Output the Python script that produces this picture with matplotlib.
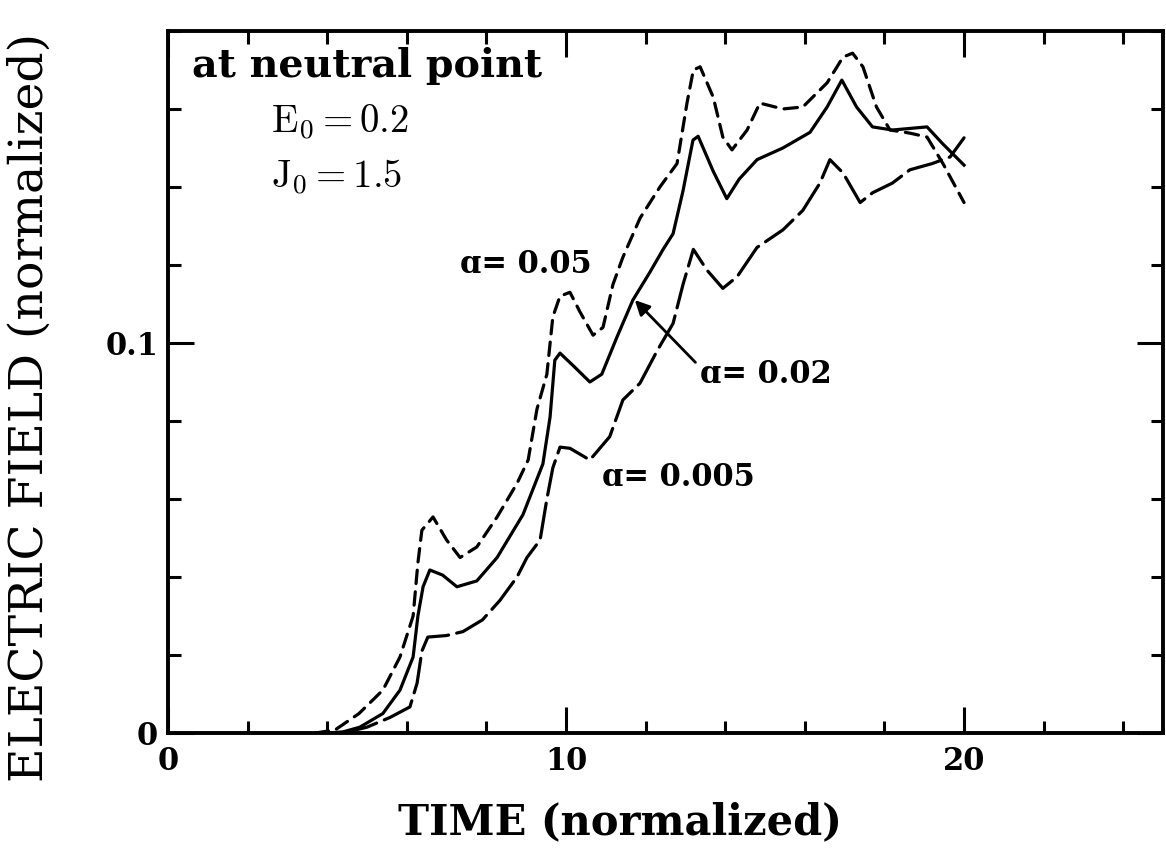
import numpy as np
import matplotlib
matplotlib.use("Agg")
import matplotlib.pyplot as plt
from matplotlib.ticker import MultipleLocator

plt.rcParams['font.family'] = ['DejaVu Serif']
plt.rcParams['mathtext.fontset'] = 'cm'

# electric field at the neutral point, alpha = 0.02 (solid)
t_a02 = [4.0, 4.4, 4.82, 5.4, 5.83, 6.16, 6.28, 6.41, 6.58, 6.9, 7.26, 7.76, 8.27,
         8.92, 9.42, 9.6, 9.72, 9.85, 10.2, 10.6, 10.9, 11.28, 11.68, 12.1, 12.44,
         12.69, 12.94, 13.19, 13.32, 13.7, 14.04, 14.35, 14.8, 15.45, 16.13, 16.56,
         16.93, 17.3, 17.7, 18.2, 19.07, 19.47, 20.0]
e_a02 = [0.0, 0.0003, 0.0015, 0.005, 0.011, 0.0195, 0.030, 0.0375, 0.0418, 0.0405,
         0.0375, 0.039, 0.045, 0.056, 0.069, 0.081, 0.0956, 0.0974, 0.094, 0.090,
         0.092, 0.1015, 0.111, 0.118, 0.124, 0.128, 0.139, 0.152, 0.153, 0.144,
         0.137, 0.142, 0.147, 0.150, 0.154, 0.1605, 0.1674, 0.1605, 0.1554, 0.1546,
         0.1554, 0.151, 0.1456]

# alpha = 0.05 (short dashes)
t_a05 = [3.7, 4.2, 4.8, 5.4, 5.83, 6.16, 6.28, 6.38, 6.66, 7.0, 7.34, 7.76, 8.27,
         8.77, 9.05, 9.27, 9.52, 9.67, 9.85, 10.1, 10.35, 10.68, 10.93, 11.18,
         11.43, 11.86, 12.36, 12.79, 13.04, 13.2, 13.37, 13.7, 13.94, 14.17, 14.55,
         14.87, 15.45, 15.95, 16.56, 16.96, 17.2, 17.46, 17.8, 18.14, 18.64, 19.07,
         19.47, 20.0]
e_a05 = [0.0, 0.0008, 0.005, 0.011, 0.0195, 0.030, 0.0436, 0.052, 0.0554, 0.0495,
         0.045, 0.0477, 0.0554, 0.064, 0.070, 0.083, 0.092, 0.1067, 0.112, 0.113,
         0.108, 0.102, 0.104, 0.115, 0.122, 0.132, 0.140, 0.146, 0.1615, 0.170,
         0.1708, 0.163, 0.1528, 0.1495, 0.1546, 0.1615, 0.160, 0.1605, 0.1667,
         0.1733, 0.1743, 0.1708, 0.1605, 0.1546, 0.1538, 0.1528, 0.146, 0.136]

# alpha = 0.005 (long dashes)
t_a005 = [4.4, 5.0, 5.58, 6.08, 6.26, 6.38, 6.53, 7.0, 7.41, 7.9, 8.34, 8.77, 9.02,
          9.35, 9.52, 9.67, 9.85, 10.1, 10.6, 11.1, 11.43, 11.86, 12.29, 12.69,
          12.94, 13.2, 13.54, 13.94, 14.3, 14.8, 15.45, 15.95, 16.38, 16.63, 16.96,
          17.39, 17.7, 18.2, 18.64, 19.2, 19.65, 20.0]
e_a005 = [0.0, 0.0015, 0.004, 0.0067, 0.0128, 0.021, 0.0246, 0.025, 0.026, 0.029,
          0.034, 0.040, 0.045, 0.0495, 0.060, 0.068, 0.0733, 0.073, 0.070, 0.076,
          0.0854, 0.0897, 0.098, 0.105, 0.115, 0.124, 0.1187, 0.114, 0.117, 0.1245,
          0.129, 0.134, 0.141, 0.147, 0.1436, 0.136, 0.1385, 0.141, 0.1444, 0.146,
          0.1477, 0.1526]

x_major, x_minor = 10, 2
y_major, y_minor = 0.1, 0.02

fig = plt.figure(figsize=(11.66, 8.5), dpi=100)
ax = fig.add_axes([0.144, 0.1376, 0.8535, 0.826])

lw = 2.3
ax.plot(t_a02, e_a02, color='k', lw=lw, solid_joinstyle='round')
ax.plot(t_a05, e_a05, color='k', lw=lw, dashes=(4.2, 2.6), dash_capstyle='round')
ax.plot(t_a005, e_a005, color='k', lw=lw, dashes=(11, 2.6), dash_capstyle='round')

ax.set_xlim(0, 25)
ax.set_ylim(0, 0.18)
ax.xaxis.set_major_locator(MultipleLocator(x_major))
ax.xaxis.set_minor_locator(MultipleLocator(x_minor))
ax.yaxis.set_major_locator(MultipleLocator(y_major))
ax.yaxis.set_minor_locator(MultipleLocator(y_minor))
ax.set_xticks([0, 10, 20])
ax.set_xticklabels(['0', '10', '20'])
ax.set_yticks([0, 0.1])
ax.set_yticklabels(['0', '0.1'])

ax.tick_params(which='both', direction='in', top=True, right=True, width=2.2)
ax.tick_params(which='major', length=19, labelsize=22)
ax.tick_params(which='minor', length=9)
ax.tick_params(axis='x', which='major', pad=9)
ax.tick_params(axis='y', which='major', pad=7)
for lab in ax.get_xticklabels() + ax.get_yticklabels():
    lab.set_fontweight('bold')
for sp in ax.spines.values():
    sp.set_linewidth(2.8)

ax.set_xlabel('TIME (normalized)', fontsize=30, fontweight='bold')
ax.xaxis.set_label_coords(0.454, -0.127)
ax.xaxis.label.set_va('center')
ax.set_ylabel('ELECTRIC FIELD (normalized)', fontsize=34)
ax.yaxis.set_label_coords(-0.138, 0.464)
ax.yaxis.label.set_va('center')

ax.text(0.6, 0.171, 'at neutral point', fontsize=28.5, fontweight='bold', va='center')
ax.text(2.6, 0.1565, r'$\mathrm{E_0 = 0.2}$', fontsize=28, va='center')
ax.text(2.6, 0.1425, r'$\mathrm{J_0 = 1.5}$', fontsize=28, va='center')

ax.text(7.34, 0.120, 'ɑ= 0.05', fontsize=22, fontweight='bold', va='center')
ax.text(10.9, 0.0656, 'ɑ= 0.005', fontsize=22, fontweight='bold', va='center')
ax.annotate('ɑ= 0.02', xy=(11.73, 0.111), xytext=(13.37, 0.0918),
            fontsize=22, fontweight='bold', va='center',
            arrowprops=dict(arrowstyle='-|>', color='k', lw=2.0,
                            mutation_scale=22, relpos=(0.0, 0.75),
                            shrinkA=2, shrinkB=0))

fig.savefig('out.png', dpi=100)
